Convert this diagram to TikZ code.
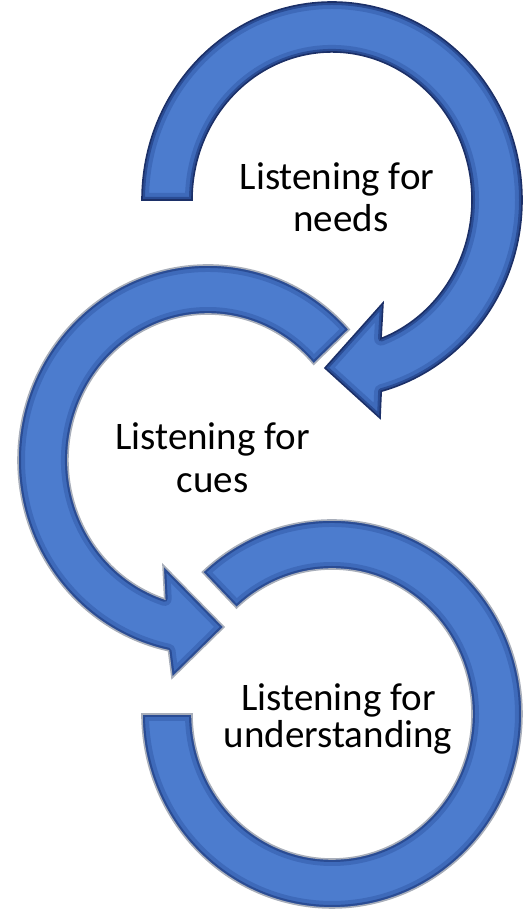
\documentclass[tikz,border=0pt]{standalone}
\usepackage{fontspec}
\setmainfont{Carlito}
\definecolor{ringcenter}{RGB}{76,124,206}
\definecolor{ringmid}{RGB}{62,106,186}
\definecolor{ringdark}{RGB}{42,76,148}
\definecolor{edgenavy}{RGB}{28,48,104}
\definecolor{edgegray}{RGB}{168,174,186}
\tikzset{
  lbl/.style={anchor=base, inner sep=0pt, font=\fontsize{19.5}{23}\selectfont, text=black}
}
\newcommand{\ringdraw}[2]{%
  \begin{scope}
    \clip #1;
    \fill[ringcenter] #1;
    \draw[ringmid, line width=7pt, line join=round] #1;
    \draw[ringdark, line width=3pt, line join=round] #1;
  \end{scope}
  \draw[#2, line width=0.8pt, line join=miter] #1;
}
\begin{document}
\begin{tikzpicture}[x=0.5pt, y=0.5pt]
\useasboundingbox (0,0) rectangle (523,910);
% ring 1 (needs)
\ringdraw{(142,710) arc[start angle=180, end angle=-75, x radius=190, y radius=198] -- (380,492) -- (325,542) -- (383,607) -- (381,571.4) arc[start angle=-69.5, end angle=180, x radius=140, y radius=148] -- cycle}{edgenavy}
% ring 2 (cues)
\ringdraw{(349.2,580.5) arc[start angle=42, end angle=258, x radius=190, y radius=195] -- (172,232) -- (224,283) -- (163,345) -- (164.7,311.1) arc[start angle=252, end angle=41, x radius=140, y radius=146] -- cycle}{edgegray}
% ring 3 (understanding)
\ringdraw{(202.4,337.9) arc[start angle=133, end angle=-180, x radius=190, y radius=194] -- (192,196) arc[start angle=-180, end angle=133, x radius=140, y radius=145] -- cycle}{edgegray}
% labels
\node[lbl] (n1a) at (337,720) {Listening for};
\node[lbl] (n1b) at (341,678) {needs};
\node[lbl] (n2a) at (212.5,460) {Listening for};
\node[lbl] (n2b) at (212.5,417) {cues};
\node[lbl] (n3a) at (338.5,199) {Listening for};
\node[lbl] (n3b) at (338,162.5) {understanding};
\end{tikzpicture}
\end{document}
